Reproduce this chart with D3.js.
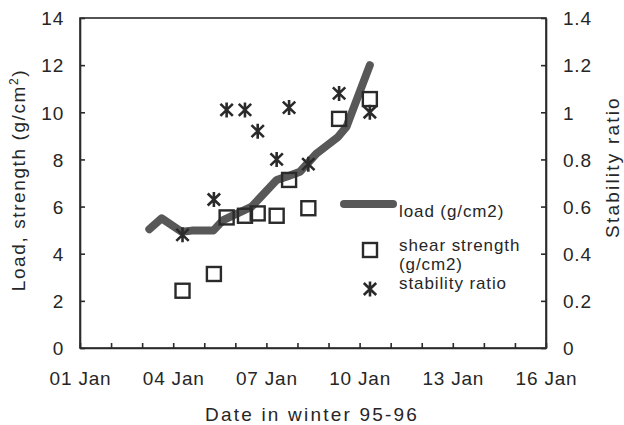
<!DOCTYPE html>
<html>
<head>
<meta charset="utf-8">
<script src="https://cdn.jsdelivr.net/npm/d3@7"></script>
<style>
  body { margin: 0; background: #fff; }
  svg text { font-family: "Liberation Sans", Arial, sans-serif; fill: #262626; }
</style>
</head>
<body>
<svg width="624" height="425"></svg>
<script>
// day of January 1996 (fractional) and measured values
var loadDay = [3.23, 3.63, 4.27, 4.60, 5.29, 5.61, 6.53, 7.33, 7.65, 8.08, 8.62, 9.31, 9.58, 10.33];
var loadValue = [5.04, 5.50, 4.93, 4.98, 4.98, 5.43, 6.00, 7.13, 7.27, 7.48, 8.26, 8.96, 9.39, 12.0];
var obsDay = [4.30, 5.31, 5.72, 6.31, 6.72, 7.33, 7.73, 8.35, 9.34, 10.33];
var strengthValue = [2.43, 3.14, 5.54, 5.61, 5.71, 5.61, 7.13, 5.93, 9.72, 10.56];
var stabilityValue = [0.48, 0.63, 1.01, 1.01, 0.92, 0.80, 1.02, 0.78, 1.08, 1.00];
var leftTicks = [0, 2, 4, 6, 8, 10, 12, 14];
var rightTicks = [0, 0.2, 0.4, 0.6, 0.8, 1, 1.2, 1.4];

var svg = d3.select("svg"),
  margin = { top: 18, right: 78, bottom: 77, left: 80 },
  width = +svg.attr("width") - margin.left - margin.right,
  height = +svg.attr("height") - margin.top - margin.bottom,
  g = svg.append("g").attr("transform", "translate(" + margin.left + "," + margin.top + ")");

function jan(d) { return new Date(1996, 0, 1, 0, 0).getTime() + (d - 1) * 864e5; }

var x = d3.scaleTime()
  .domain([new Date(1996, 0, 1), new Date(1996, 0, 16)])
  .range([0, width]);
var yL = d3.scaleLinear().domain([0, 14]).range([height, 0]);
var yR = d3.scaleLinear().domain([0, 1.4]).range([height, 0]);

var ink = "#2a2a2a", lineCol = "#585858";

// frame
g.append("rect")
  .attr("width", width).attr("height", height)
  .attr("fill", "none").attr("stroke", ink).attr("stroke-width", 1.6);

// axes
var days = d3.timeDay.range(new Date(1996, 0, 1), new Date(1996, 0, 17));
var fmt = d3.timeFormat("%d %b");
var xAxis = g.append("g")
  .attr("transform", "translate(0," + height + ")")
  .call(d3.axisBottom(x).tickValues(days).tickSize(-5).tickSizeOuter(0)
    .tickFormat(function (d) { return (d.getDate() - 1) % 3 === 0 ? fmt(d) : ""; }));
xAxis.selectAll("text").attr("y", 37).attr("dy", 0);

var lAxis = g.append("g")
  .call(d3.axisLeft(yL).tickValues(leftTicks).tickSize(-5).tickSizeOuter(0));
lAxis.selectAll("text").attr("x", -16).attr("dy", "0.36em");

var rAxis = g.append("g")
  .attr("transform", "translate(" + width + ",0)")
  .call(d3.axisRight(yR).tickValues(rightTicks).tickSize(-5).tickSizeOuter(0)
    .tickFormat(function (d) { return String(+d.toFixed(1)); }));
rAxis.selectAll("text").attr("x", 17).attr("dy", "0.36em");

svg.selectAll(".tick text").style("font-size", "19px").style("letter-spacing", "0.8px").attr("fill", "#262626");
svg.selectAll(".tick line").attr("stroke", ink).attr("stroke-width", 1.6);
svg.selectAll(".domain").attr("stroke", ink).attr("stroke-width", 1.6);

// axis titles
svg.append("text")
  .attr("x", 312).attr("y", 421)
  .attr("text-anchor", "middle")
  .style("font-size", "19px").style("letter-spacing", "2.2px")
  .text("Date in winter 95-96");

var lt = svg.append("text")
  .attr("transform", "translate(25,180)rotate(-90)")
  .attr("text-anchor", "middle")
  .style("font-size", "19px").style("letter-spacing", "1.6px");
lt.append("tspan").text("Load, strength  (g/cm");
lt.append("tspan").attr("dy", -7).style("font-size", "12px").text("2");
lt.append("tspan").attr("dy", 7).text(")");

svg.append("text")
  .attr("transform", "translate(619,167)rotate(-90)")
  .attr("text-anchor", "middle")
  .style("font-size", "19px").style("letter-spacing", "2.2px")
  .text("Stability ratio");

// marks
var loadData = loadDay.map(function (d, i) { return { t: jan(d), v: loadValue[i] }; });
var obs = obsDay.map(function (d, i) { return { t: jan(d), s: strengthValue[i], r: stabilityValue[i] }; });

g.append("path")
  .datum(loadData)
  .attr("fill", "none")
  .attr("stroke", lineCol)
  .attr("stroke-width", 8)
  .attr("stroke-linecap", "round")
  .attr("stroke-linejoin", "round")
  .attr("d", d3.line().x(function (d) { return x(d.t); }).y(function (d) { return yL(d.v); }));

var sq = 14;
function square(sel) {
  sel.append("rect")
    .attr("x", -sq / 2).attr("y", -sq / 2)
    .attr("width", sq).attr("height", sq)
    .attr("fill", "none").attr("stroke", ink).attr("stroke-width", 2.4);
}
function star(sel) {
  sel.append("path")
    .attr("d", "M0,-7.5V7.5M-6.2,-6L6.2,6M-6.2,6L6.2,-6")
    .attr("fill", "none").attr("stroke", ink).attr("stroke-width", 2.6);
}

g.append("g").selectAll("g")
  .data(obs)
  .enter().append("g")
  .attr("transform", function (d) { return "translate(" + x(d.t) + "," + yL(d.s) + ")"; })
  .call(square);

g.append("g").selectAll("g")
  .data(obs)
  .enter().append("g")
  .attr("transform", function (d) { return "translate(" + x(d.t) + "," + yR(d.r) + ")"; })
  .call(star);

// legend
var legend = svg.append("g");
legend.append("line")
  .attr("x1", 344).attr("x2", 393).attr("y1", 204).attr("y2", 204)
  .attr("stroke", lineCol).attr("stroke-width", 8).attr("stroke-linecap", "round");
legend.append("g").attr("transform", "translate(370,250)").call(square);
legend.append("g").attr("transform", "translate(370,289)").call(star);

var legendText = [["load (g/cm2)", 217], ["shear strength", 251], ["(g/cm2)", 270], ["stability ratio", 289]];
legend.selectAll("text")
  .data(legendText)
  .enter().append("text")
  .attr("x", 399)
  .attr("y", function (d) { return d[1]; })
  .style("font-size", "17px").style("letter-spacing", "0.9px")
  .text(function (d) { return d[0]; });
</script>
</body>
</html>
